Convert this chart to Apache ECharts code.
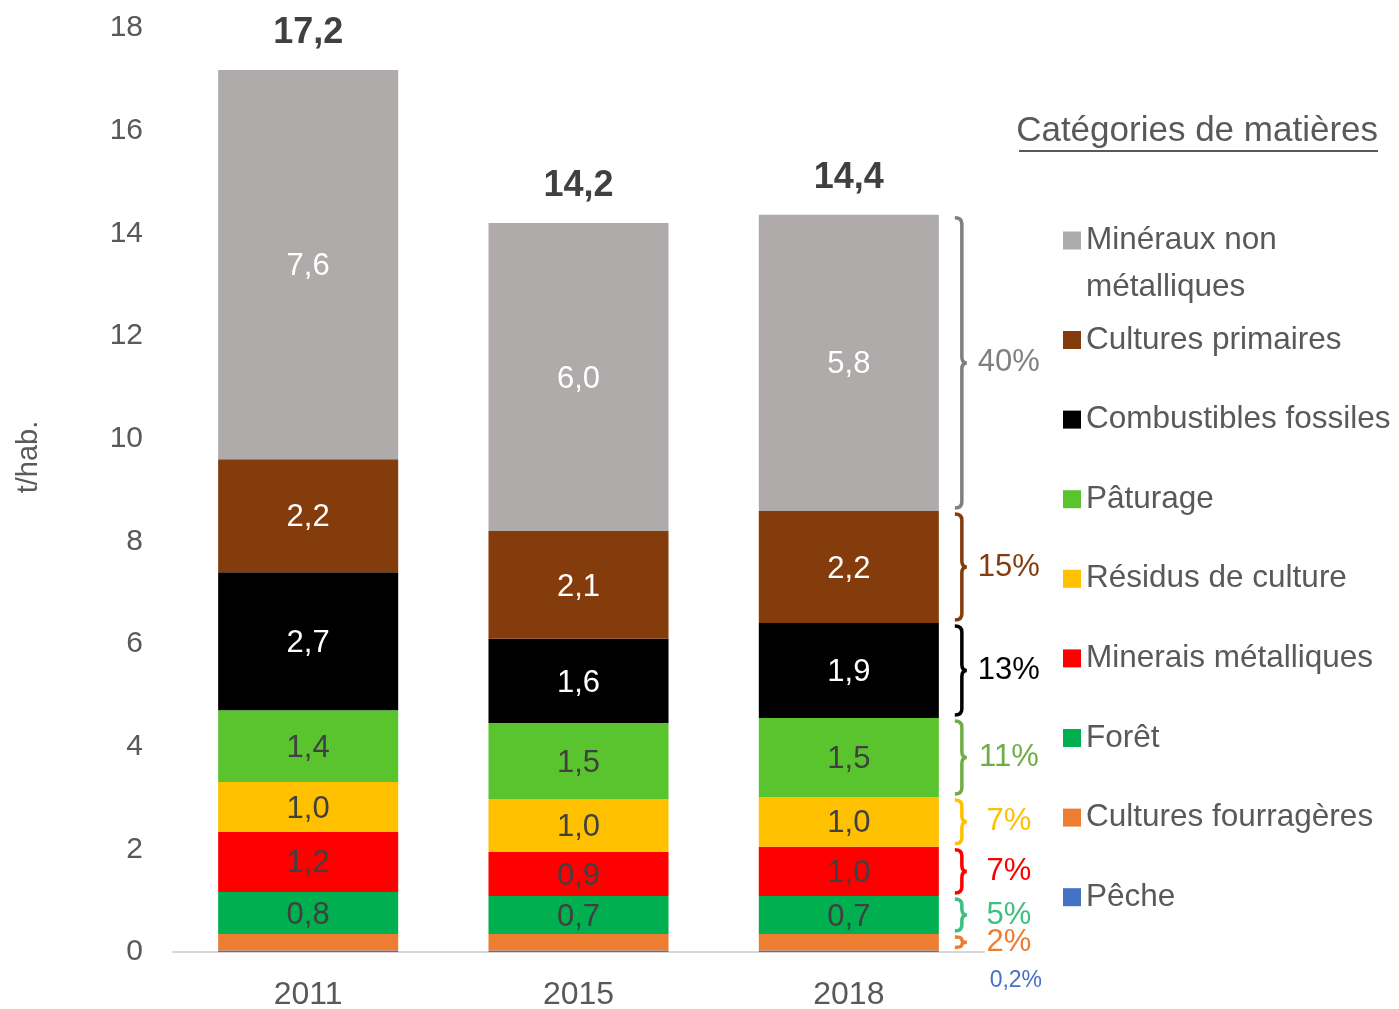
<!DOCTYPE html>
<html>
<head>
<meta charset="utf-8">
<script src="https://cdn.jsdelivr.net/npm/echarts@6/dist/echarts.min.js"></script>
<style>
  html, body { margin: 0; padding: 0; background: #fff; }
  #chart { width: 1399px; height: 1009px; }
</style>
</head>
<body>
<div id="chart"></div>
<script>
// valeurs en t/hab., de bas en haut de la pile
const years = ['2011', '2015', '2018'];
const peche = [0.03, 0.03, 0.03];
const culturesFourrageres = [0.32, 0.32, 0.32];
const foret = [0.82, 0.74, 0.74];
const mineraisMetalliques = [1.17, 0.86, 0.96];
const residusCulture = [0.97, 1.03, 0.97];
const paturage = [1.40, 1.48, 1.54];
const combustiblesFossiles = [2.69, 1.64, 1.85];
const culturesPrimaires = [2.20, 2.10, 2.18];
const minerauxNonMetalliques = [7.58, 6.00, 5.77];

const names = ['Pêche', 'Cultures fourragères', 'Forêt', 'Minerais métalliques', 'Résidus de culture',
  'Pâturage', 'Combustibles fossiles', 'Cultures primaires', 'Minéraux non métalliques'];
const values = [peche, culturesFourrageres, foret, mineraisMetalliques, residusCulture,
  paturage, combustiblesFossiles, culturesPrimaires, minerauxNonMetalliques];
const colors = ['#4472c4', '#ed7d31', '#00b050', '#ff0000', '#ffc000',
  '#5ac42f', '#000000', '#843c0c', '#afabab'];
const pctColors = ['#4472c4', '#ed7d31', '#3cbf7f', '#ff0000', '#ffc000',
  '#70ad47', '#000000', '#843c0c', '#7f7f7f'];
const labelColors = [null, null, '#404040', '#404040', '#404040', '#404040', '#fff', '#fff', '#fff'];

const FONT = "'Liberation Sans', Arial, sans-serif";
const fmt = v => (Math.round(v * 10) / 10).toFixed(1).replace('.', ',');

const totals = years.map((y, i) => values.reduce((s, arr) => s + arr[i], 0));

// parts 2018 (dernier groupe) pour les accolades
const last = years.length - 1;
const bracketData = [];
let cum = 0;
values.forEach((arr, k) => {
  const v = arr[last];
  const pct = v / totals[last] * 100;
  const txt = pct < 1 ? pct.toFixed(1).replace('.', ',') + '%' : Math.round(pct) + '%';
  bracketData.push([last, cum, cum + v, txt, k]);
  cum += v;
});

var chartDom = document.getElementById('chart');
var myChart = echarts.init(chartDom);
var option;

const barSeries = values.map((arr, k) => ({
  name: names[k],
  type: 'bar',
  stack: 'total',
  barCategoryGap: '33.4%',
  data: arr,
  itemStyle: { color: colors[k] },
  label: {
    show: labelColors[k] !== null,
    position: 'inside',
    offset: [0, 2],
    formatter: p => fmt(p.value),
    color: labelColors[k] || '#404040',
    fontSize: 31,
    fontFamily: FONT
  },
  emphasis: { disabled: true }
}));

barSeries.push({
  name: 'Total',
  type: 'bar',
  stack: 'total',
  data: years.map(() => 0),
  itemStyle: { color: 'transparent' },
  label: {
    show: true,
    position: 'top',
    distance: 19,
    formatter: p => fmt(totals[p.dataIndex]),
    color: '#404040',
    fontSize: 36,
    fontWeight: 'bold',
    fontFamily: FONT
  },
  emphasis: { disabled: true }
});

barSeries.push({
  name: 'parts',
  type: 'custom',
  data: bracketData,
  z: 5,
  renderItem: function (params, api) {
    const lo = api.value(1), hi = api.value(2);
    const pct = api.value(3);
    const k = bracketData[params.dataIndex][4];
    const col = pctColors[k];
    const pLo = api.coord([api.value(0), lo]);
    const pHi = api.coord([api.value(0), hi]);
    const band = api.size([1, 0])[0];
    const x = pLo[0] + band * 0.333 + 23;
    if (hi - lo < 0.1) {
      return {
        type: 'text',
        style: { text: pct, x: x + 54, y: pLo[1] + 29, fill: col, font: '23px ' + FONT,
          align: 'center', verticalAlign: 'middle' }
      };
    }
    const top = pHi[1] + 3, bot = pLo[1] - 3, mid = (top + bot) / 2;
    const r = Math.min(6, (bot - top) / 4);
    const d = 'M' + (x - 7) + ',' + top +
      ' Q' + x + ',' + top + ' ' + x + ',' + (top + r) +
      ' L' + x + ',' + (mid - r) +
      ' Q' + x + ',' + mid + ' ' + (x + 5) + ',' + mid +
      ' Q' + x + ',' + mid + ' ' + x + ',' + (mid + r) +
      ' L' + x + ',' + (bot - r) +
      ' Q' + x + ',' + bot + ' ' + (x - 7) + ',' + bot;
    return {
      type: 'group',
      children: [
        { type: 'path', shape: { pathData: d }, style: { stroke: col, lineWidth: 3.5, fill: null } },
        { type: 'text', style: { text: pct, x: x + 47, y: mid, fill: col, font: '31px ' + FONT,
          align: 'center', verticalAlign: 'middle' } }
      ]
    };
  }
});

option = {
  animation: false,
  grid: { left: 173, right: 415, top: 28, bottom: 57, outerBoundsMode: 'none' },
  title: {
    text: 'Catégories de matières',
    right: 21,
    top: 114,
    padding: 0,
    textStyle: { color: '#595959', fontSize: 35, fontWeight: 'normal', fontFamily: FONT }
  },
  graphic: [
    { type: 'rect', right: 21, top: 150, shape: { width: 359, height: 2 }, style: { fill: '#595959' } }
  ],
  legend: [
    {
      data: ['Minéraux non métalliques'],
      orient: 'vertical',
      left: 1063,
      top: 170,
      padding: 0,
      icon: 'rect',
      itemWidth: 18,
      itemHeight: 18,
      selectedMode: false,
      formatter: () => '\nMinéraux non\nmétalliques',
      textStyle: { color: '#595959', fontSize: 31.5, fontFamily: FONT, lineHeight: 47 }
    },
    {
      data: names.slice(0, 8).reverse(),
      orient: 'vertical',
      left: 1063,
      top: 322,
      padding: 0,
      itemGap: 43.6,
      icon: 'rect',
      itemWidth: 18,
      itemHeight: 18,
      selectedMode: false,
      textStyle: { color: '#595959', fontSize: 31.5, fontFamily: FONT, lineHeight: 36 }
    }
  ],
  xAxis: {
    type: 'category',
    data: years,
    axisTick: { show: false },
    axisLine: { lineStyle: { color: '#d9d9d9', width: 2 } },
    axisLabel: { color: '#595959', fontSize: 32, fontFamily: FONT, margin: 27 }
  },
  yAxis: {
    type: 'value',
    min: 0,
    max: 18,
    interval: 2,
    name: 't/hab.',
    nameLocation: 'middle',
    nameRotate: 90,
    nameGap: 130,
    nameTextStyle: { color: '#595959', fontSize: 29, fontFamily: FONT, padding: [0, 0, 0, 66] },
    splitLine: { show: false },
    axisLine: { show: false },
    axisTick: { show: false },
    axisLabel: { color: '#595959', fontSize: 30, fontFamily: FONT, margin: 30 }
  },
  series: barSeries
};

option && myChart.setOption(option);
</script>
</body>
</html>
